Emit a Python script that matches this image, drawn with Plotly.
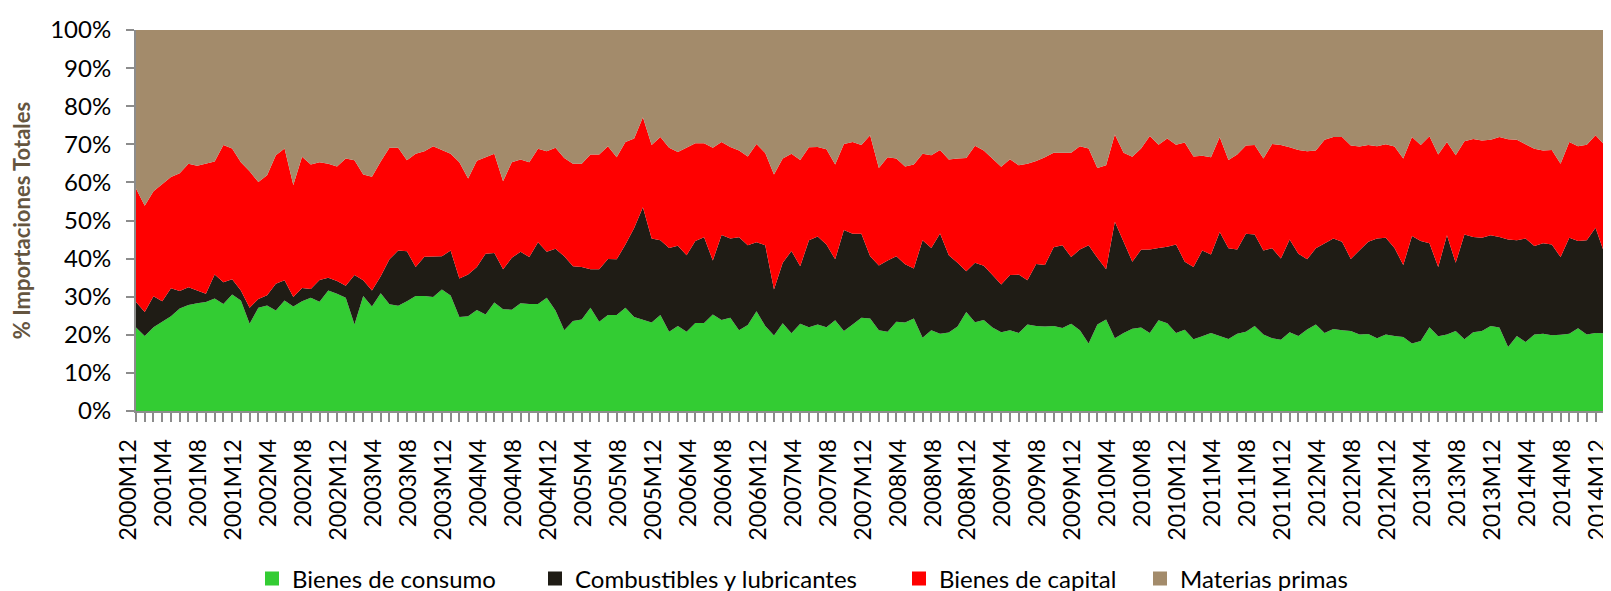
import plotly.graph_objects as go

# Shares (%) of total imports, monthly 2000M12 .. 2015M1
consumo = [21.9,19.7,22.0,23.4,24.9,26.9,27.8,28.3,28.6,29.5,28.1,30.6,29.0,22.9,27.1,27.7,26.4,29.0,27.4,28.8,
           29.7,28.7,31.6,30.8,29.7,22.7,30.2,27.4,30.9,28.0,27.6,28.8,30.2,30.2,29.9,31.9,30.3,24.7,24.9,26.5,
           25.3,28.5,26.7,26.6,28.3,28.1,28.1,29.7,26.4,21.2,23.6,24.0,27.1,23.4,25.2,25.2,27.1,24.7,24.0,23.2,
           25.2,20.8,22.3,20.8,23.1,23.1,25.3,23.9,24.5,21.2,22.6,26.2,22.3,19.8,23.0,20.4,22.9,22.0,22.7,22.0,
           23.8,21.0,22.7,24.5,24.3,21.2,20.8,23.4,23.2,24.3,19.2,21.2,20.3,20.6,22.2,26.0,23.3,23.9,21.9,20.7,
           21.2,20.5,22.7,22.3,22.2,22.3,21.8,22.9,21.2,17.7,22.7,24.0,19.1,20.5,21.6,21.9,20.5,23.8,23.0,20.5,
           21.3,18.8,19.6,20.5,19.7,18.9,20.3,20.8,22.3,20.1,19.1,18.7,20.7,19.7,21.4,22.7,20.5,21.5,21.2,21.0,
           20.1,20.2,19.1,20.1,19.7,19.4,17.7,18.4,22.0,19.6,20.1,21.0,18.8,20.7,21.0,22.3,21.9,16.8,19.7,18.1,
           20.1,20.3,19.9,20.0,20.3,21.7,20.1,20.5,20.4,20.1]
combustibles = [6.7,6.3,8.1,5.4,7.3,4.6,4.7,3.3,2.2,6.3,5.7,4.0,2.6,4.2,2.3,2.7,7.0,5.3,2.5,3.5,
                2.3,5.7,3.4,3.3,3.2,13.0,4.1,4.2,4.5,11.8,14.5,13.1,7.6,10.3,10.6,8.7,11.8,10.1,10.9,11.3,
                16.0,13.0,10.5,13.6,13.5,12.3,16.2,12.1,16.2,19.4,14.4,13.8,10.1,13.8,14.7,14.6,16.6,23.3,29.5,22.1,
                19.6,22.0,21.1,20.1,21.5,22.5,14.2,22.3,20.8,24.4,20.9,18.1,21.2,12.1,15.9,21.6,15.1,22.8,23.1,21.7,
                16.0,26.5,23.8,22.0,16.3,17.0,18.7,17.2,15.3,13.1,25.6,21.6,26.3,20.3,16.7,10.7,15.6,14.2,13.8,12.5,
                14.5,15.3,11.6,16.3,16.1,20.7,21.7,17.5,21.2,25.8,17.5,13.2,30.6,24.1,17.6,20.4,21.9,19.0,20.1,23.2,
                17.9,19.0,22.5,20.6,27.3,23.8,22.1,25.7,24.0,22.0,23.6,21.3,24.3,21.6,18.4,20.0,23.6,23.8,23.2,18.9,
                22.1,24.2,26.2,25.4,23.1,18.9,28.2,26.2,22.0,18.2,26.0,17.9,27.5,25.0,24.5,23.8,23.8,28.2,25.1,27.2,
                23.2,23.7,23.8,20.4,25.2,22.9,24.7,27.6,21.1,20.3]
capital = [29.8,27.9,27.6,30.8,29.2,30.9,32.4,32.8,34.1,29.7,36.0,34.3,33.7,35.8,30.7,31.5,33.7,34.6,29.4,34.4,
           32.7,30.9,29.9,30.1,33.4,30.1,27.8,29.9,30.1,29.3,27.0,23.9,29.7,27.7,29.0,27.8,25.4,30.5,25.2,27.9,
           25.3,26.0,23.1,25.1,24.2,24.9,24.5,26.4,26.5,25.8,26.9,27.1,30.1,30.1,29.6,26.8,26.9,23.5,23.6,24.5,
           27.1,26.3,24.6,28.3,25.7,24.7,29.6,24.4,24.0,22.8,23.3,25.8,24.2,30.2,27.4,25.5,27.9,24.4,23.5,25.0,
           24.9,22.6,24.1,23.3,31.8,25.6,27.1,25.7,25.7,27.3,22.7,24.3,21.9,25.1,27.4,29.7,30.7,30.3,30.6,30.9,
           30.4,28.7,30.6,27.0,28.3,24.8,24.3,27.4,27.1,25.4,23.6,27.3,22.9,23.2,27.5,26.6,29.8,27.1,28.4,26.2,
           31.3,29.0,24.9,25.5,24.9,23.2,24.9,23.2,23.5,24.2,27.4,29.8,24.2,27.2,28.4,25.7,27.1,26.6,27.5,29.8,
           27.2,25.4,24.2,24.5,26.6,28.0,26.0,25.2,28.1,29.5,24.5,28.2,24.5,25.7,25.5,25.1,26.2,26.3,26.4,24.8,
           25.5,24.4,24.8,24.5,25.1,24.9,25.1,24.3,28.4,28.0]
materias = [41.6,46.1,42.3,40.4,38.6,37.6,35.1,35.6,35.1,34.5,30.2,31.1,34.7,37.1,39.9,38.1,32.9,31.1,40.7,33.3,
            35.3,34.7,35.1,35.8,33.7,34.2,37.9,38.5,34.5,30.9,30.9,34.2,32.5,31.8,30.5,31.6,32.5,34.7,39.0,34.3,
            33.4,32.5,39.7,34.7,34.0,34.7,31.2,31.8,30.9,33.6,35.1,35.1,32.7,32.7,30.5,33.4,29.4,28.5,22.9,30.2,
            28.1,30.9,32.0,30.8,29.7,29.7,30.9,29.4,30.7,31.6,33.2,29.9,32.3,37.9,33.7,32.5,34.1,30.8,30.7,31.3,
            35.3,29.9,29.4,30.2,27.6,36.2,33.4,33.7,35.8,35.3,32.5,32.9,31.5,34.0,33.7,33.6,30.4,31.6,33.7,35.9,
            33.9,35.5,35.1,34.4,33.4,32.2,32.2,32.2,30.5,31.1,36.2,35.5,27.4,32.2,33.3,31.1,27.8,30.1,28.5,30.1,
            29.5,33.2,33.0,33.4,28.1,34.1,32.7,30.3,30.2,33.7,29.9,30.2,30.8,31.5,31.8,31.6,28.8,28.1,28.1,30.3,
            30.6,30.2,30.5,30.0,30.6,33.7,28.1,30.2,27.9,32.7,29.4,32.9,29.2,28.6,29.0,28.8,28.1,28.7,28.8,29.9,
            31.2,31.6,31.5,35.1,29.4,30.5,30.1,27.6,30.1,31.6]

series_names = ["Bienes de consumo", "Combustibles y lubricantes", "Bienes de capital", "Materias primas"]
series_colors = ["#33CC33", "#1F1C15", "#FF0000", "#A38B6B"]

# Monthly categories 2000M12 ... 2015M1
categories = ["2000M12"]
for yr in range(2001, 2016):
    for m in range(1, 13):
        categories.append(f"{yr}M{m}")
categories = categories[:len(consumo)]

tick_labels = ["2000M12", "2001M4", "2001M8", "2001M12", "2002M4", "2002M8", "2002M12",
               "2003M4", "2003M8", "2003M12", "2004M4", "2004M8", "2004M12", "2005M4",
               "2005M8", "2005M12", "2006M4", "2006M8", "2006M12", "2007M4", "2007M8",
               "2007M12", "2008M4", "2008M8", "2008M12", "2009M4", "2009M8", "2009M12",
               "2010M4", "2010M8", "2010M12", "2011M4", "2011M8", "2011M12", "2012M4",
               "2012M8", "2012M12", "2013M4", "2013M8", "2013M12", "2014M4", "2014M8", "2014M12"]

idx = list(range(len(categories)))
ticktext = [c if c in tick_labels else "" for c in categories]

FONT = "Lato"
fig = go.Figure()
for name, vals, col in zip(series_names, [consumo, combustibles, capital, materias], series_colors):
    fig.add_trace(go.Scatter(
        x=idx, y=vals, name=name, mode="lines", stackgroup="one", groupnorm="percent",
        line=dict(width=0, color=col), fillcolor=col, showlegend=False,
        hovertext=categories, hoverinfo="text+y+name"))

# legend entries as square swatches, one legend per entry positioned like the original
leg_x = [244, 527, 891, 1132]   # pixel x of each legend box (container coords)
for k, (name, col) in enumerate(zip(series_names, series_colors)):
    lname = "legend" if k == 0 else f"legend{k+1}"
    fig.add_trace(go.Scatter(x=[None], y=[None], mode="markers", name=name,
                             marker=dict(symbol="square", size=14, color=col),
                             showlegend=True, legend=lname))
    fig.update_layout(**{lname: dict(x=leg_x[k] / 1611, y=(591 - 571) / 591, xref="container",
                                     yref="container", xanchor="left", yanchor="middle",
                                     orientation="h", bgcolor="rgba(0,0,0,0)",
                                     font=dict(family=FONT, size=24, color="#000"),
                                     itemwidth=30)})

fig.update_layout(
    width=1611, height=591,
    margin=dict(l=128, r=6, t=22, b=188, autoexpand=False),
    plot_bgcolor="white", paper_bgcolor="white",
    font=dict(family=FONT, color="#000"),
)
fig.update_xaxes(
    range=[0, len(categories) - 1], tickmode="array", tickvals=idx, ticktext=ticktext,
    tickangle=-90, ticks="outside", ticklen=9, tickcolor="#8C8C8C", tickwidth=1.5,
    showline=True, linecolor="#8C8C8C", linewidth=2, showgrid=False, zeroline=False,
    tickfont=dict(family=FONT, size=23, color="#000"), ticklabelstandoff=8,
    ticklabelshift=-7, automargin=False,
)
fig.update_yaxes(
    range=[0, 100], dtick=10, ticksuffix="%", ticks="outside", ticklen=8,
    tickcolor="#8C8C8C", tickwidth=1.5, showline=True, linecolor="#8C8C8C", linewidth=2,
    showgrid=False, zeroline=False, tickfont=dict(family=FONT, size=24, color="#000"),
    ticklabelstandoff=10, automargin=False,
    title=dict(text="<b>% Importaciones Totales</b>", font=dict(family=FONT, size=22, color="#65553F"),
               standoff=14),
)

fig.write_html("out.html")
